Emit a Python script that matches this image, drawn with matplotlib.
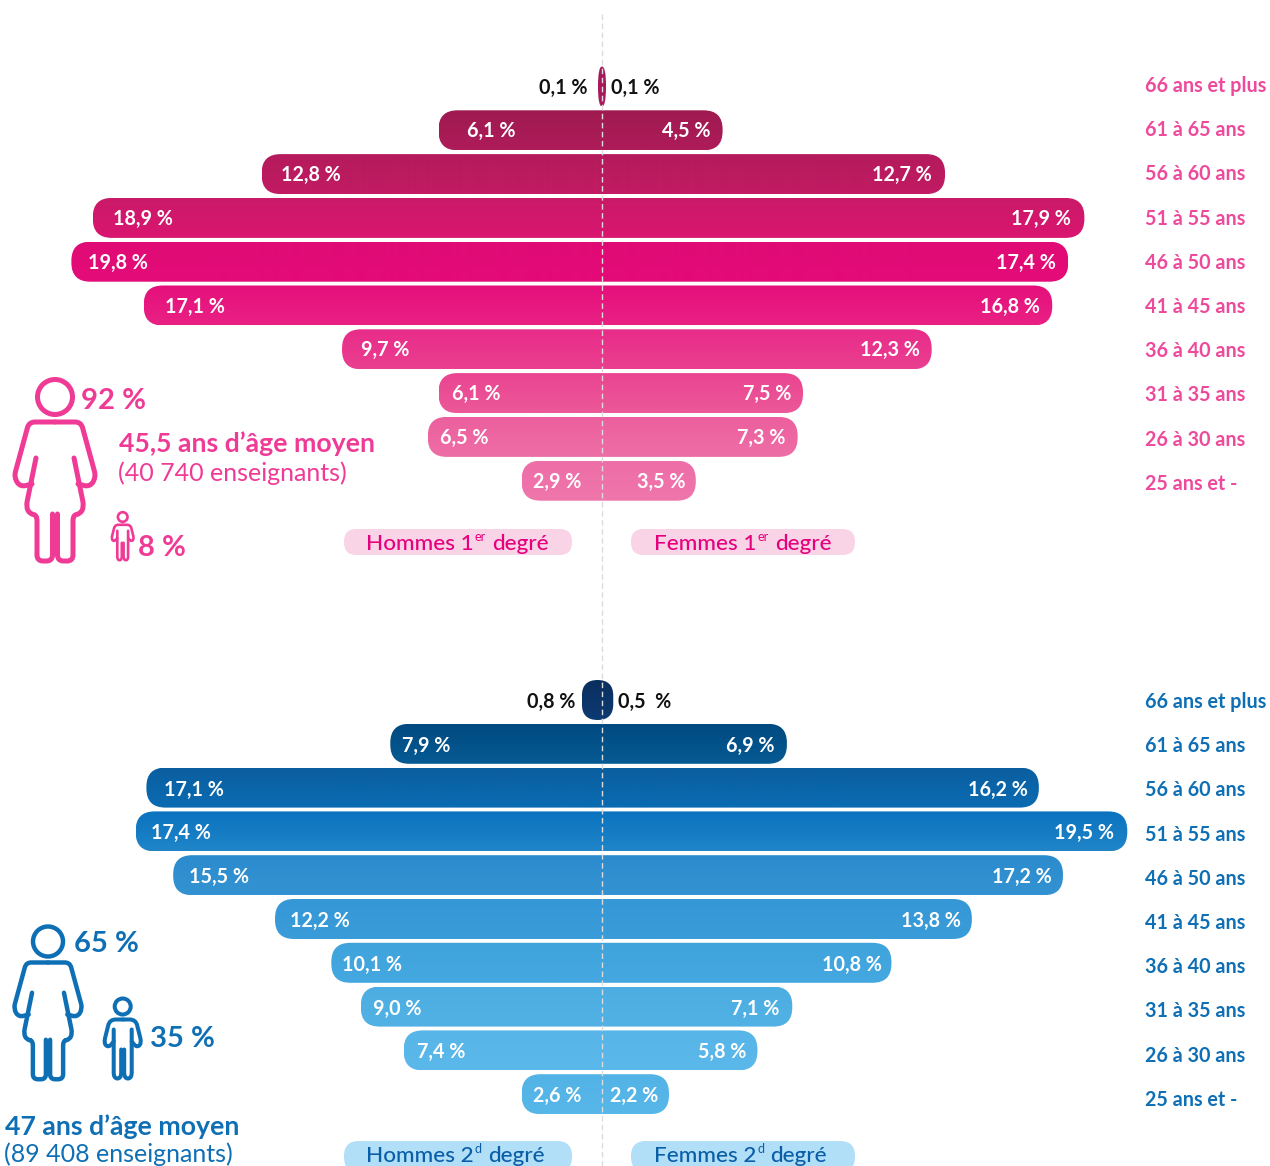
# coding: utf-8
# Pyramides des ages des enseignants, 1er et 2d degre

import numpy as np
import matplotlib
matplotlib.use("Agg")
import matplotlib.pyplot as plt
from matplotlib.colors import to_rgb
from matplotlib.patches import FancyBboxPatch, PathPatch, Circle
from matplotlib.path import Path

plt.rcParams['font.family'] = ['Lato', 'DejaVu Sans']

# Donnees (de 66 ans et plus a 25 ans et moins)
ages = ["66 ans et plus", "61 à 65 ans", "56 à 60 ans", "51 à 55 ans", "46 à 50 ans",
        "41 à 45 ans", "36 à 40 ans", "31 à 35 ans", "26 à 30 ans", "25 ans et -"]

hommes_1 = [0.15, 6.1, 12.7, 19.0, 19.8, 17.1, 9.7, 6.1, 6.5, 3.0]
femmes_1 = [0.15, 4.5, 12.8, 18.0, 17.4, 16.8, 12.3, 7.5, 7.3, 3.5]
lab_hommes_1 = ["0,1 %", "6,1 %", "12,8 %", "18,9 %", "19,8 %", "17,1 %", "9,7 %", "6,1 %", "6,5 %", "2,9 %"]
lab_femmes_1 = ["0,1 %", "4,5 %", "12,7 %", "17,9 %", "17,4 %", "16,8 %", "12,3 %", "7,5 %", "7,3 %", "3,5 %"]

hommes_2 = [0.75, 7.9, 17.0, 17.4, 16.0, 12.2, 10.1, 9.0, 7.4, 3.0]
femmes_2 = [0.42, 6.9, 16.3, 19.6, 17.2, 13.8, 10.8, 7.1, 5.8, 2.5]
lab_hommes_2 = ["0,8 %", "7,9 %", "17,1 %", "17,4 %", "15,5 %", "12,2 %", "10,1 %", "9,0 %", "7,4 %", "2,6 %"]
lab_femmes_2 = ["0,5  %", "6,9 %", "16,2 %", "19,5 %", "17,2 %", "13,8 %", "10,8 %", "7,1 %", "5,8 %", "2,2 %"]

# Mise en page (pixels)
W, H = 1270, 1166
CENTRE = 602
PX_PAR_POINT = 26.8
PX_PAR_RANG = 43.8
HAUTEUR_BARRE = 40
RAYON = 19

retrait_h_1 = [-10, 28, 19, 20, 17, 21, 19, 13, 12, 11]
retrait_f_1 = [-5, 12, 13, 14, 12, 12, 12, 12, 12, 10]
retrait_h_2 = [-7, 12, 18, 15, 16, 15, 11, 12, 13, 11]
retrait_f_2 = [-5, 12, 11, 13, 11, 11, 10, 13, 11, 11]

# Couleurs haut / bas de chaque barre
degrade_1 = [("#a3185a", "#ab1a5c"), ("#9f1a50", "#ae1c5a"), ("#b41b5c", "#c21b63"),
             ("#ca1a67", "#da1571"), ("#e00b75", "#e40b78"), ("#e50f7b", "#e92184"),
             ("#e82c89", "#ea3f90"), ("#ea4591", "#ec5899"), ("#ec5f9e", "#ee6ea6"),
             ("#ee6ea8", "#ef76ab")]
degrade_2 = [("#0a2f5e", "#0c3a72"), ("#004a80", "#065a94"), ("#0a5e9f", "#0a6cb3"),
             ("#0a72bf", "#2085c8"), ("#2b8bcd", "#3393d2"), ("#3597d6", "#3a9dd9"),
             ("#3fa3dc", "#45a8e0"), ("#4cade2", "#52b2e5"), ("#57b5e8", "#5bb8ea"),
             ("#52b3e6", "#58b7e9")]

ROSE = "#ef3b96"
ROSE_VIF = "#e6007e"
ROSE_PALE = "#f9d3e6"
BLEU = "#0f6fb5"
BLEU_FONCE = "#0a5ea8"
BLEU_PALE = "#b0dff7"


def pyramide(fig, y_haut, hommes, femmes, lab_h, lab_f, ret_h, ret_f, degrade, dy):
    # y_haut : pixel du centre de la premiere barre
    marge = 26
    bas_px = y_haut + 9 * PX_PAR_RANG + marge
    ax = fig.add_axes([0, 1 - bas_px / H, 1, (bas_px - y_haut + marge) / H])
    ax.axis("off")
    ax.patch.set_alpha(0)

    h_rang = HAUTEUR_BARRE / PX_PAR_RANG
    for i in range(len(hommes)):
        rang = 9 - i
        largeur = hommes[i] + femmes[i]
        rx = min(RAYON / PX_PAR_POINT, largeur / 2)
        ry = (HAUTEUR_BARRE / 2 if rx * PX_PAR_POINT < 6 else min(RAYON, rx * PX_PAR_POINT)) / PX_PAR_RANG
        barre = FancyBboxPatch((-hommes[i], rang - h_rang / 2), largeur, h_rang,
                               boxstyle="round,pad=0,rounding_size=%f" % rx,
                               mutation_aspect=ry / rx, lw=0, fc="none")
        ax.add_patch(barre)
        haut, bas = to_rgb(degrade[i][0]), to_rgb(degrade[i][1])
        grad = np.linspace(haut, bas, 40)[:, None, :]
        im = ax.imshow(grad, extent=(-hommes[i], femmes[i], rang - h_rang / 2, rang + h_rang / 2),
                       aspect="auto", origin="upper", zorder=2)
        im.set_clip_path(barre)

        for val, texte, ret, signe in ((-hommes[i], lab_h[i], ret_h[i], 1), (femmes[i], lab_f[i], ret_f[i], -1)):
            dedans = ret > 0
            ha = ("left" if signe > 0 else "right") if dedans else ("right" if signe > 0 else "left")
            ax.annotate(texte, xy=(val, rang), xytext=(signe * ret, dy), textcoords="offset pixels",
                        ha=ha, va="center_baseline", fontsize=14.2, fontweight="bold",
                        color="white" if dedans else "#111111", zorder=4)

    ax.set_xlim(-CENTRE / PX_PAR_POINT, (W - CENTRE) / PX_PAR_POINT)
    ax.set_ylim(-marge / PX_PAR_RANG, 9 + marge / PX_PAR_RANG)
    return ax


def arrondi(pts, r):
    # ligne brisee avec coins arrondis
    pts = [np.array(p, float) for p in pts]
    verts, codes = [pts[0]], [Path.MOVETO]
    for a, b, c in zip(pts[:-2], pts[1:-1], pts[2:]):
        ra = min(r, np.linalg.norm(b - a) / 2)
        rc = min(r, np.linalg.norm(c - b) / 2)
        verts += [b - ra * (b - a) / np.linalg.norm(b - a), b, b + rc * (c - b) / np.linalg.norm(c - b)]
        codes += [Path.LINETO, Path.CURVE3, Path.CURVE3]
    verts.append(pts[-1])
    codes.append(Path.LINETO)
    return Path(verts, codes)


femme = [[(0, 25), (-26, 25), (-41, 80), (-35, 90), (-23, 87)],
         [(-19, 61), (-29, 110), (-25, 117), (-18, 118), (-18, 164), (-2.5, 164), (-2.5, 117)]]
homme = [[(0, 13), (-13, 13), (-19, 37), (-14, 41), (-9, 35)],
         [(-9, 23), (-9, 72), (-1.5, 72), (-1.5, 43)]]


def personne(ax, cx, cy, echelle, lw, couleur, tete, contours):
    ax.add_patch(Circle((cx, cy), tete, fill=False, ec=couleur, lw=lw))
    for signe in (-1, 1):
        for c in contours:
            pts = [(cx + signe * x * echelle, cy + y * echelle) for x, y in c]
            ax.add_patch(PathPatch(arrondi(pts, 6 * echelle), fill=False, ec=couleur, lw=lw, capstyle="round", joinstyle="round"))


def pastille(ax, x0, x1, y0, y1, couleur):
    r = (y1 - y0) / 2 - 0.5
    ax.add_patch(FancyBboxPatch((x0, y0), x1 - x0, y1 - y0, boxstyle="round,pad=0,rounding_size=%f" % r, lw=0, fc=couleur))


def legende(ax, x, y, debut, sup, fin, couleur):
    # le calque est a l'echelle 1 px, on enchaine les morceaux avec leur largeur
    rendu = ax.figure.canvas.get_renderer()
    t1 = ax.text(x, y, debut, color=couleur, fontsize=16.2, fontweight="medium")
    x1 = t1.get_window_extent(rendu).x1 + 1
    t2 = ax.text(x1, y - 9, sup, color=couleur, fontsize=9)
    x2 = t2.get_window_extent(rendu).x1 + 6
    ax.text(x2, y, fin, color=couleur, fontsize=16.2, fontweight="medium")


def main():
    fig = plt.figure(figsize=(W / 100, H / 100), dpi=100, facecolor="white")

    pyramide(fig, 86.5, hommes_1, femmes_1, lab_hommes_1, lab_femmes_1, retrait_h_1, retrait_f_1, degrade_1, 1)
    pyramide(fig, 700, hommes_2, femmes_2, lab_hommes_2, lab_femmes_2, retrait_h_2, retrait_f_2, degrade_2, 0)

    # calque en pixels pour les textes et les pictogrammes
    ov = fig.add_axes([0, 0, 1, 1])
    ov.set_xlim(0, W)
    ov.set_ylim(H, 0)
    ov.axis("off")
    ov.patch.set_alpha(0)

    ov.plot([CENTRE, CENTRE], [14, H], color="#dcdcdc", lw=1, dashes=(4, 2.5), zorder=5)

    # ages a droite
    for i, a in enumerate(ages):
        ov.text(1145, 84 + i * 44.2, a, color="#ee4a9c", fontsize=14.2, fontweight="bold", va="center_baseline")
        ov.text(1145, 700 + i * 44.2, a, color=BLEU, fontsize=14.2, fontweight="bold", va="center_baseline")

    # pictogrammes
    personne(ov, 55, 397, 1.0, 3.6, ROSE, 17.5, femme)
    personne(ov, 122.7, 517, 0.6, 1.9, ROSE, 4.8, homme)
    personne(ov, 48, 941.5, 0.84, 3.2, BLEU, 15, femme)
    personne(ov, 122.7, 1006.5, 1.0, 2.9, BLEU, 8, homme)

    # textes rose
    ov.text(81, 409, "92 %", color=ROSE, fontsize=21, fontweight="bold")
    ov.text(119, 452, "45,5 ans d’âge moyen", color=ROSE, fontsize=19.2, fontweight="bold")
    ov.text(118, 481, "(40 740 enseignants)", color=ROSE, fontsize=18, fontweight="normal")
    ov.text(138, 556, "8 %", color=ROSE, fontsize=21, fontweight="bold")

    # textes bleu
    ov.text(74, 952, "65 %", color=BLEU, fontsize=21, fontweight="bold")
    ov.text(150, 1047, "35 %", color=BLEU, fontsize=21, fontweight="bold")
    ov.text(5, 1135, "47 ans d’âge moyen", color=BLEU, fontsize=19.2, fontweight="bold")
    ov.text(4, 1162, "(89 408 enseignants)", color=BLEU, fontsize=18, fontweight="normal")

    # etiquettes des colonnes
    pastille(ov, 344, 572, 529, 555, ROSE_PALE)
    pastille(ov, 631, 855, 529, 555, ROSE_PALE)
    legende(ov, 366, 550, "Hommes 1", "er", "degré", ROSE_VIF)
    legende(ov, 654, 550, "Femmes 1", "er", "degré", ROSE_VIF)

    pastille(ov, 344, 572, 1141, 1172, BLEU_PALE)
    pastille(ov, 631, 855, 1141, 1172, BLEU_PALE)
    legende(ov, 366, 1162, "Hommes 2", "d", "degré", BLEU_FONCE)
    legende(ov, 654, 1162, "Femmes 2", "d", "degré", BLEU_FONCE)

    fig.savefig("out.png", dpi=100, facecolor="white")


if __name__ == "__main__":
    main()
